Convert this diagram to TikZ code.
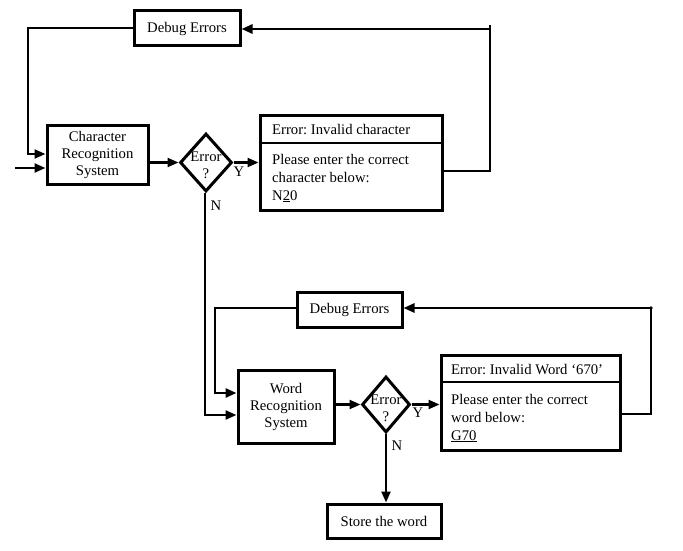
\documentclass[tikz,border=0pt]{standalone}
\usepackage{fontspec}
\setmainfont{Liberation Serif}
\frenchspacing
\usetikzlibrary{shapes.geometric,arrows.meta}
\begin{document}
\begin{tikzpicture}[x=1pt,y=-1pt,
  box/.style={draw,line width=3pt,inner sep=0pt,align=center,font=\fontsize{14.7}{17}\selectfont},
  dia/.style={draw,diamond,line width=3pt,inner sep=0pt},
  conn/.style={line width=2.2pt},
  tconn/.style={line width=2.8pt},
  arr/.style={-{Triangle[length=11pt,width=9pt]}},
  txt/.style={inner sep=0pt,font=\fontsize{14.7}{17}\selectfont},
  body/.style={inner sep=0pt,align=left,anchor=west,font=\fontsize{14.7}{18}\selectfont}
]
\useasboundingbox (0,0) rectangle (683,551);

% nodes
\node[box,minimum width=106pt,minimum height=35pt] (dbg1) at (187,28.5) {Debug Errors};
\node[box,minimum width=101pt,minimum height=59pt] (crs) at (97.5,154.5) {Character\\Recognition\\System};
\node[dia,minimum width=52pt,minimum height=58pt] (d1) at (206,162.5) {};
\node[txt,align=center] (d1t) at (206,165) {Error\\?};
\node[box,minimum width=182pt,minimum height=95pt] (err1) at (351,162.5) {};
\coordinate (div1) at (0,143);
\draw[line width=2pt] (err1.west |- div1) -- (err1.east |- div1);
\node[txt,anchor=west] (e1title) at (272,130) {Error: Invalid character};
\node[body] (e1body) at (272,178) {Please enter the correct\\character below:\\N\underline{2}0};

\node[box,minimum width=105pt,minimum height=35pt] (dbg2) at (349.5,309.5) {Debug Errors};
\node[box,minimum width=96pt,minimum height=73pt] (wrs) at (286,406.5) {Word\\Recognition\\System};
\node[dia,minimum width=48pt,minimum height=56pt] (d2) at (386,404.5) {};
\node[txt,align=center] (d2t) at (386,408) {Error\\?};
\node[box,minimum width=179pt,minimum height=95pt] (err2) at (530.5,402.5) {};
\coordinate (div2) at (0,382);
\draw[line width=2pt] (err2.west |- div2) -- (err2.east |- div2);
\node[txt,anchor=west] (e2title) at (451,370) {Error: Invalid Word ‘670’};
\node[body] (e2body) at (451,418) {Please enter the correct\\word below:\\\underline{G70}};

\node[box,minimum width=114pt,minimum height=34pt] (store) at (384,521) {Store the word};

% labels
\node[txt] (y1) at (239,172) {Y};
\node[txt] (n1) at (216,206) {N};
\node[txt] (y2) at (418,413) {Y};
\node[txt] (n2) at (397,446) {N};

% coordinates
\coordinate (in1) at (15,168);
\coordinate (l1) at (28,154);
\coordinate (r1) at (490,29);
\coordinate (r1top) at (490,25);
\coordinate (r1bot) at (490,171);
\coordinate (l2) at (215,393);
\coordinate (r2) at (651,308);
\coordinate (r2bot) at (651,414);
\coordinate (down1) at (205,415);

% connectors, upper part
\draw[conn,arr] (dbg1.west |- 0,28) -| (l1) -- (l1 -| crs.west);
\draw[conn,arr] (in1) -- (in1 -| crs.west);
\draw[conn,arr] (crs.east |- d1) -- (d1.west);
\draw[conn,arr] (d1.east) -- (d1.east -| err1.west);
\draw[tconn] (err1.east |- r1bot) -- (r1bot) -- (r1top);
\draw[tconn,arr] (r1) -- (r1 -| dbg1.east);

% connectors, lower part
\draw[conn,arr] (d1.south -| down1) -- (down1) -- (down1 -| wrs.west);
\draw[tconn,arr] (dbg2.west |- r2) -| (l2) -- (l2 -| wrs.west);
\draw[conn,arr] (wrs.east |- d2) -- (d2.west);
\draw[conn,arr] (d2.east) -- (d2.east -| err2.west);
\draw[tconn] (err2.east |- r2bot) -- (r2bot) -- (r2);
\draw[tconn,arr] (r2) -- (r2 -| dbg2.east);
\fill (r2) circle (1.8pt);
\draw[conn,arr] (d2.south) -- (d2.south |- store.north);
\end{tikzpicture}
\end{document}
